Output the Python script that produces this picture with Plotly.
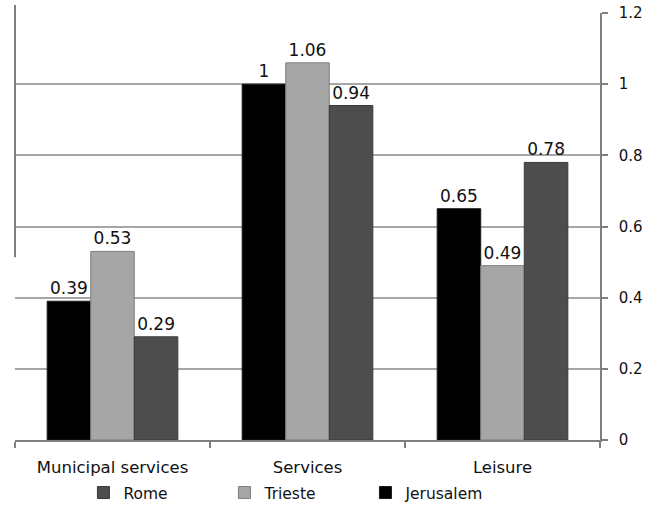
import plotly.graph_objects as go

categories = ["Municipal services", "Services", "Leisure"]
jerusalem = [0.39, 1.0, 0.65]
trieste = [0.53, 1.06, 0.49]
rome = [0.29, 0.94, 0.78]
tick_vals = [0, 0.2, 0.4, 0.6, 0.8, 1.0, 1.2]
tick_text = ["0", "0.2", "0.4", "0.6", "0.8", "1", "1.2"]

font = "DejaVu Sans, sans-serif"

def lbl(v):
    return f"{v:g}"

fig = go.Figure()
series = [
    ("Jerusalem", jerusalem, "#000000", "#1a1a1a"),
    ("Trieste", trieste, "#a6a6a6", "#7f7f7f"),
    ("Rome", rome, "#4d4d4d", "#3a3a3a"),
]
for name, vals, col, line in series:
    fig.add_trace(go.Bar(
        name=name, x=categories, y=vals,
        marker=dict(color=col, line=dict(color=line, width=1)),
        text=[lbl(v) for v in vals], textposition="outside",
        textfont=dict(family=font, size=17, color="#111111"),
        cliponaxis=False,
    ))

fig.update_layout(
    width=656, height=513,
    margin=dict(l=15, r=56, t=13, b=73, autoexpand=False),
    paper_bgcolor="white", plot_bgcolor="white",
    barmode="group", bargap=0.33, bargroupgap=0,
    font=dict(family=font, size=15, color="#111111"),
    legend=dict(orientation="h", traceorder="reversed",
                x=0.117, xanchor="left", y=-0.124, yanchor="middle",
                font=dict(family=font, size=15.5, color="#111111"),
                entrywidth=96, entrywidthmode="pixels", itemwidth=30),
    xaxis=dict(showline=True, linecolor="#808080", linewidth=1.5,
               ticks="outside", tickson="boundaries", ticklen=6,
               tickcolor="#808080", tickwidth=1.5, ticklabelstandoff=11,
               tickfont=dict(family=font, size=16.5, color="#111111"),
               showgrid=False, automargin=False),
    yaxis=dict(side="right", range=[0, 1.2], tickvals=tick_vals, ticktext=tick_text,
               showgrid=True, gridcolor="#a6a6a6", gridwidth=1.5,
               showline=True, linecolor="#808080", linewidth=1.5,
               ticks="outside", ticklen=6, tickcolor="#808080", tickwidth=1.5,
               ticklabelstandoff=8, automargin=False,
               tickfont=dict(family=font, size=15, color="#111111"),
               zeroline=False),
)
fig.add_shape(type="line", xref="paper", yref="paper", x0=0, x1=0, y0=0.428, y1=1.019,
              line=dict(color="#808080", width=2))

fig.write_html("out.html")
